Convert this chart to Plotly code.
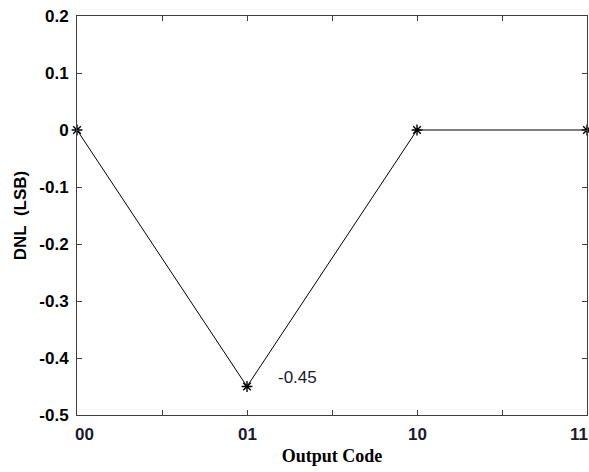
import plotly.graph_objects as go

codes_x = [0, 1, 2, 3]
dnl = [0, -0.45, 0, 0]
x_tick_vals = [0, 0.5, 1, 1.5, 2, 2.5, 3]
x_label_vals = [0, 1, 2, 3]
x_label_text = ["00", "01", "10", "11"]
x_label_shift = [7, 0, 0, -8]
y_tick_vals = [0.2, 0.1, 0, -0.1, -0.2, -0.3, -0.4, -0.5]
y_tick_text = ["0.2", "0.1", "0", "-0.1", "-0.2", "-0.3", "-0.4", "-0.5"]

axcol = "#404040"
sans = "Liberation Sans"

fig = go.Figure()
fig.add_trace(go.Scatter(
    x=codes_x, y=dnl, mode="lines+markers",
    line=dict(color="black", width=1),
    marker=dict(symbol="asterisk-open", size=9, color="black", line=dict(color="black", width=1.4)),
    cliponaxis=False, showlegend=False,
))

annotations = []
for xv, txt, sh in zip(x_label_vals, x_label_text, x_label_shift):
    annotations.append(dict(
        x=xv, y=0, xref="x", yref="paper", text=txt, showarrow=False,
        xanchor="center", yanchor="top", xshift=sh, yshift=-8,
        font=dict(family=sans, size=17, color="#1a1a2e", weight="bold"),
    ))
annotations.append(dict(
    x=1, y=-0.45, xref="x", yref="y", text="-0.45", showarrow=False,
    xanchor="left", yanchor="middle", xshift=29, yshift=9,
    font=dict(family=sans, size=17, color="#1a1a2e"),
))

fig.update_layout(
    width=589, height=472,
    margin=dict(l=77, r=2, t=16, b=57),
    paper_bgcolor="white", plot_bgcolor="white",
    annotations=annotations,
    xaxis=dict(
        range=[0, 3], tickvals=x_tick_vals, showticklabels=False,
        ticks="inside", ticklen=5, tickcolor=axcol, tickwidth=1,
        showline=True, linecolor=axcol, linewidth=1, mirror="ticks",
        showgrid=False, zeroline=False,
        title=dict(text="Output Code", standoff=34,
                   font=dict(family="Liberation Serif", size=18, color="black", weight="bold")),
    ),
    yaxis=dict(
        range=[-0.5, 0.2], tickvals=y_tick_vals, ticktext=y_tick_text,
        ticks="inside", ticklen=5, tickcolor=axcol, tickwidth=1,
        showline=True, linecolor=axcol, linewidth=1, mirror="ticks",
        showgrid=False, zeroline=False, ticklabelstandoff=4,
        tickfont=dict(family=sans, size=17, color="black", weight="bold"),
        title=dict(text="DNL  (LSB)", standoff=8,
                   font=dict(family=sans, size=17, color="black", weight="bold")),
    ),
)

fig.write_html("out.html")
